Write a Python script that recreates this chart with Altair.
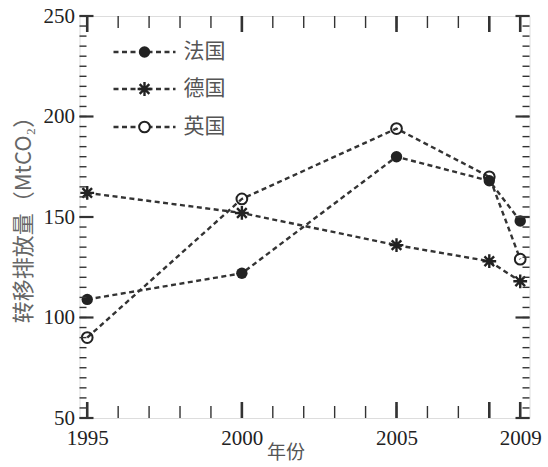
import altair as alt
import pandas as pd

# ---- data ----
years = [1995, 2000, 2005, 2008, 2009]
countries = ["法国", "德国", "英国"]
france = [109, 122, 180, 168, 148]
germany = [162, 152, 136, 128, 118]
uk = [90, 159, 194, 170, 129]
x_tick_labels = [1995, 2000, 2005, 2009]
y_tick_labels = [50, 100, 150, 200, 250]
x_minor = list(range(1995, 2010))
x_major = [1995, 2000, 2005, 2008, 2009]
y_minor = list(range(50, 251, 5))
y_major = [50, 100, 150, 200, 250]

series = {"法国": france, "德国": germany, "英国": uk}
df = pd.DataFrame([
    {"country": c, "year": y, "value": v}
    for c in countries for y, v in zip(years, series[c])
])

W, H = 450, 402
INK = "#222"
SERIF = "Liberation Serif"
CJK = "Noto Sans CJK SC"
DASH = [5, 3.5]
ASTERISK = "M-1,0L1,0M0,-1L0,1M-0.7,-0.7L0.7,0.7M-0.7,0.7L0.7,-0.7"

xscale = alt.Scale(domain=[1994.75, 2009.3], nice=False, zero=False)
yscale = alt.Scale(domain=[50, 250], nice=False, zero=False)

xaxis = alt.Axis(values=x_tick_labels, format="d", ticks=False, grid=False, domain=False,
                 labelFont=SERIF, labelFontSize=21, labelColor="#222", labelPadding=9,
                 labelFlush=False, labelOverlap=False,
                 title="年份", titleFont=CJK, titleFontSize=19, titleColor="#555",
                 titleFontWeight="normal", titleX=206, titleY=34, titleBaseline="middle")
yaxis = alt.Axis(values=y_tick_labels, ticks=False, grid=False, domain=False,
                 labelFont=SERIF, labelFontSize=21, labelColor="#222", labelPadding=5,
                 labelFlush=False, labelOverlap=False,
                 title="转移排放量（MtCO₂）", titleFont=CJK, titleFontSize=22, titleColor="#666",
                 titleFontWeight="normal", titleX=-56, titleY=198, titleBaseline="middle",
                 titleAngle=270)

base = alt.Chart(df)
X = alt.X("year:Q", scale=xscale, axis=xaxis)
Y = alt.Y("value:Q", scale=yscale, axis=yaxis)

lines = base.mark_line(strokeDash=DASH, strokeWidth=2.4, color="#333").encode(
    x=X, y=Y, detail="country:N")

pts_fr = base.transform_filter(alt.datum.country == "法国").mark_point(
    shape="circle", filled=True, size=130, color=INK, opacity=1).encode(x=X, y=Y)
pts_de = base.transform_filter(alt.datum.country == "德国").mark_point(
    shape=ASTERISK, filled=False, size=190, color=INK, strokeWidth=2.4, opacity=1).encode(x=X, y=Y)
pts_uk = base.transform_filter(alt.datum.country == "英国").mark_point(
    shape="circle", filled=False, size=115, color=INK, strokeWidth=2, opacity=1).encode(x=X, y=Y)

# ---- inward ticks ----
xt_minor = pd.DataFrame({"t": x_minor})
xt_major = pd.DataFrame({"t": x_major})
yt_minor = pd.DataFrame({"t": y_minor})
yt_major = pd.DataFrame({"t": y_major})
XT = alt.X("t:Q", scale=xscale, axis=xaxis)
YT = alt.Y("t:Q", scale=yscale, axis=yaxis)

tick_layers = []
for d, L, sw in [(xt_minor, 12, 1.4), (xt_major, 16, 2.6)]:
    tick_layers.append(alt.Chart(d).mark_rule(color="#333", strokeWidth=sw).encode(
        x=XT, y=alt.value(H), y2=alt.value(H - L)))
    tick_layers.append(alt.Chart(d).mark_rule(color="#333", strokeWidth=sw).encode(
        x=XT, y=alt.value(0), y2=alt.value(L)))
for d, L, sw in [(yt_minor, 7, 1.4), (yt_major, 14, 2.2)]:
    tick_layers.append(alt.Chart(d).mark_rule(color="#333", strokeWidth=sw).encode(
        y=YT, x=alt.value(0), x2=alt.value(L)))
    tick_layers.append(alt.Chart(d).mark_rule(color="#333", strokeWidth=sw).encode(
        y=YT, x=alt.value(W), x2=alt.value(W - L)))

# ---- manual legend ----
leg_rows = [36, 73, 111]
leg_layers = []
for c, ry in zip(countries, leg_rows):
    one = alt.Chart(pd.DataFrame({"name": [c]}))
    leg_layers.append(one.mark_rule(strokeDash=DASH, strokeWidth=2.4, color="#333").encode(
        x=alt.value(34), x2=alt.value(96), y=alt.value(ry)))
    if c == "法国":
        m = one.mark_point(shape="circle", filled=True, size=130, color=INK, opacity=1)
    elif c == "德国":
        m = one.mark_point(shape=ASTERISK, filled=False, size=190, color=INK, strokeWidth=2.4, opacity=1)
    else:
        m = one.mark_point(shape="circle", filled=True, fill="white", stroke=INK, size=115,
                           strokeWidth=2, opacity=1)
    leg_layers.append(m.encode(x=alt.value(65), y=alt.value(ry)))
    leg_layers.append(one.mark_text(align="left", baseline="middle", font=CJK, fontSize=21,
                                    color="#555").encode(
        text="name:N", x=alt.value(104), y=alt.value(ry)))

chart = alt.layer(lines, pts_fr, pts_de, pts_uk, *tick_layers, *leg_layers).properties(
    width=W, height=H,
    autosize=alt.AutoSizeParams(type="none"),
    padding={"left": 79.5, "top": 16, "right": 18, "bottom": 49},
).configure_view(stroke="#444", strokeWidth=2).configure(background="white")

chart.save("out.html", embed_options={"renderer": "svg", "actions": False})
